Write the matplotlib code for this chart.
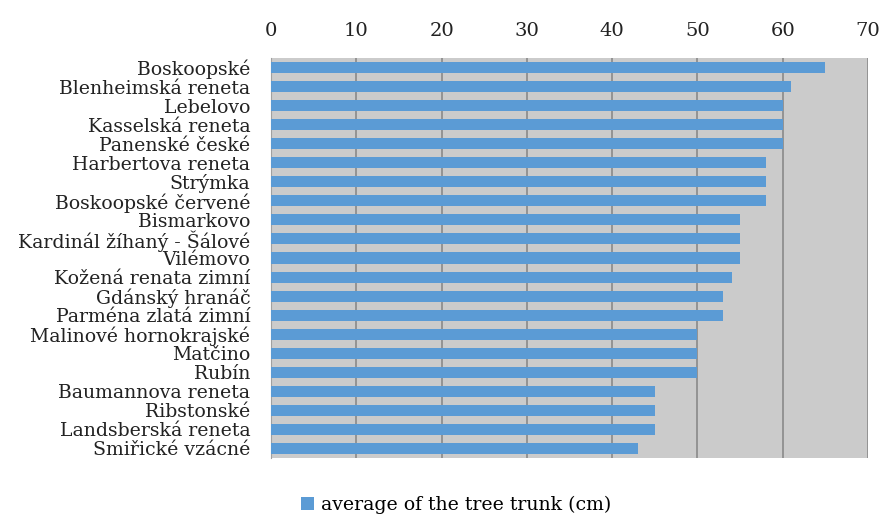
import matplotlib.pyplot as plt

varieties = [
    "Boskoopské", "Blenheimská reneta", "Lebelovo", "Kasselská reneta",
    "Panenské české", "Harbertova reneta", "Strýmka", "Boskoopské červené",
    "Bismarkovo", "Kardinál žíhaný - Šálové", "Vilémovo",
    "Kožená renata zimní", "Gdánský hranáč", "Parména zlatá zimní",
    "Malinové hornokrajské", "Matčino", "Rubín", "Baumannova reneta",
    "Ribstonské", "Landsberská reneta", "Smiřické vzácné",
]
trunk_cm = [65, 61, 60, 60, 60, 58, 58, 58, 55, 55, 55,
            54, 53, 53, 50, 50, 50, 45, 45, 45, 43]
x_ticks = [0, 10, 20, 30, 40, 50, 60, 70]

plt.rcParams["font.family"] = ["DejaVu Serif"]

fig = plt.figure(figsize=(8.84, 5.16), dpi=100)
ax = fig.add_axes([0.3066, 0.1124, 0.6753, 0.7752])
ax.set_facecolor("#cbcbcb")

ypos = list(range(len(varieties)))
ax.barh(ypos, trunk_cm, height=0.58, color="#5b9bd5",
        label="average of the tree trunk (cm)", zorder=3)

ax.set_xlim(0, 70)
ax.set_ylim(len(varieties) - 0.5, -0.5)
ax.set_xticks(x_ticks)
ax.xaxis.tick_top()
ax.tick_params(axis="x", length=0, pad=13, labelsize=14, colors="#222222")
ax.set_yticks(ypos)
ax.set_yticklabels(varieties)
ax.tick_params(axis="y", length=0, pad=15, labelsize=13.6, colors="#222222")

ax.grid(axis="x", color="#8a8a8a", linewidth=1.2, zorder=1)
ax.grid(axis="y", visible=False)
for side in ["top", "right", "bottom"]:
    ax.spines[side].set_visible(False)
ax.spines["left"].set_color("#a0a0a0")

fig.legend(loc="lower center", bbox_to_anchor=(0.516, -0.03), frameon=False,
           fontsize=13.6, handlelength=0.7, handleheight=0.7, handletextpad=0.4)

fig.savefig("out.png", dpi=100)
